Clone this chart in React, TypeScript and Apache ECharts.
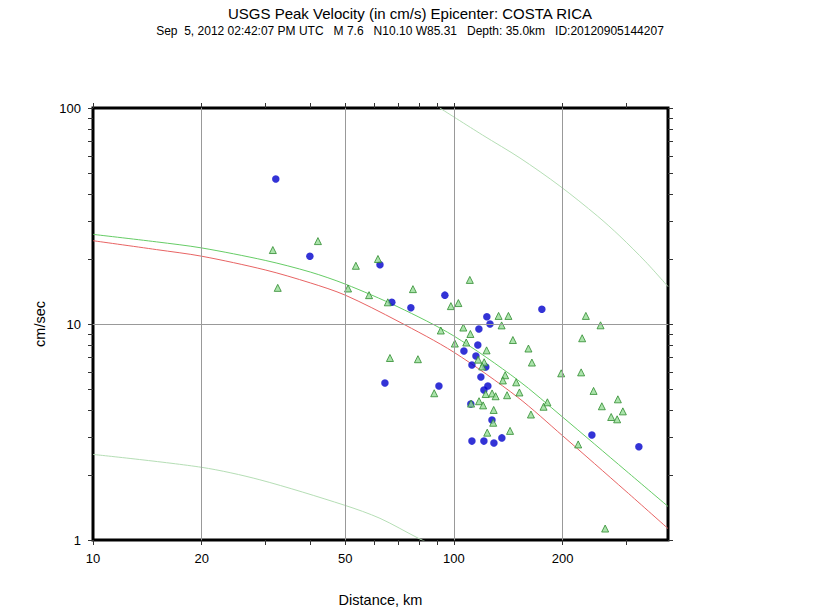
import React, { useEffect, useRef } from 'react';
import * as echarts from 'echarts';

const TITLE = 'USGS Peak Velocity (in cm/s) Epicenter: COSTA RICA';
const SUBTITLE = 'Sep  5, 2012 02:42:07 PM UTC   M 7.6   N10.10 W85.31   Depth: 35.0km   ID:20120905144207';
const X_NAME = 'Distance, km';
const Y_NAME = 'cm/sec';

const xTickValues = [10, 20, 30, 40, 50, 60, 70, 80, 90, 100, 200, 300];
const xLabelValues = [10, 20, 50, 100, 200];
const yTickValues = [1, 2, 3, 4, 5, 6, 7, 8, 9, 10, 20, 30, 40, 50, 60, 70, 80, 90, 100];
const yLabelValues = [1, 10, 100];
const xGridValues = [20, 50, 100, 200];
const yGridValues = [10];

// Seismic stations (blue circles)
const stationDist = [32.1, 39.9, 62.4, 67.3, 76.0, 94.4, 175.3, 123.4, 125.9, 117.3, 116.5, 106.6, 115.1, 112.2, 122.6, 118.8, 124.2, 121.1, 90.9, 64.4, 111.4, 127.5, 112.2, 121.1, 129.1, 135.8, 241.2, 325.5];
const stationPgv = [46.9, 20.6, 18.8, 12.6, 11.9, 13.6, 11.7, 10.8, 10.0, 9.48, 8.0, 7.5, 7.11, 6.46, 6.32, 5.68, 5.16, 4.95, 5.16, 5.33, 4.26, 3.59, 2.87, 2.87, 2.81, 2.97, 3.06, 2.70];

// Intensity-derived observations (green triangles)
const dyfiDist = [31.5, 42.0, 32.5, 53.5, 61.6, 50.9, 58.2, 65.6, 77.0, 110.7, 102.9, 98.1, 92.0, 106.2, 111.1, 100.6, 108.2, 133.0, 141.6, 135.6, 145.7, 160.9, 123.2, 164.5, 116.7, 121.3, 119.8, 138.7, 136.7, 148.8, 79.5, 88.2, 122.5, 127.6, 130.5, 140.4, 151.9, 117.4, 120.5, 128.9, 111.6, 177.2, 181.6, 163.5, 128.5, 123.7, 143.1, 232.1, 254.9, 226.7, 198.3, 225.2, 243.8, 284.7, 257.0, 293.9, 272.8, 283.4, 221.0, 262.5, 66.5];
const dyfiPgv = [22.0, 24.2, 14.7, 18.6, 20.0, 14.6, 13.6, 12.6, 14.5, 16.0, 12.5, 12.1, 9.33, 9.63, 8.99, 8.12, 8.21, 10.9, 10.9, 9.85, 8.43, 7.70, 7.55, 6.63, 6.84, 6.65, 6.36, 5.79, 5.48, 5.37, 6.87, 4.78, 4.74, 4.77, 4.63, 4.68, 4.82, 4.39, 4.20, 4.00, 4.28, 4.14, 4.34, 3.81, 3.49, 3.14, 3.20, 10.9, 9.86, 8.59, 5.91, 5.97, 4.90, 4.48, 4.16, 3.94, 3.71, 3.62, 2.77, 1.13, 6.96];

// Ground-motion curves
const curveDist = [10, 15, 20, 30, 40, 50, 70, 100, 150, 200, 300, 392];
const greenCurve = [26.0, 24.0, 22.5, 19.7, 17.4, 15.3, 12.0, 8.8, 5.52, 3.71, 2.09, 1.43];
const redCurve = [24.3, 22.1, 20.6, 17.8, 15.5, 13.6, 10.3, 7.4, 4.59, 3.04, 1.68, 1.13];
const upperDist = [91.4, 120, 152.4, 196.7, 250, 288.5, 340, 392];
const upperCurve = [100, 75, 58.7, 43.5, 31.6, 25.5, 19.4, 14.9];
const lowerDist = [10, 20, 29.0, 49.7, 62.4, 79.6, 85];
const lowerCurve = [2.49, 2.17, 1.90, 1.45, 1.26, 1.02, 0.97];

const FONT = '"Liberation Sans", Arial, Helvetica, sans-serif';

const zip = (a: number[], b: number[]) => a.map((v, i) => [v, b[i]]);

export default function App() {
  const ref = useRef<HTMLDivElement>(null);
  useEffect(() => {
    if (!ref.current) return;
    const chart = echarts.init(ref.current, undefined, { renderer: 'svg' });
    const tickStyle = { show: true, inside: false, length: 5, lineStyle: { color: '#333', width: 1 } };
    const xBase = { type: 'log' as const, logBase: 10, min: 10, max: 392, splitLine: { show: false }, axisLine: { show: false } };
    const yBase = { type: 'log' as const, logBase: 10, min: 1, max: 100, splitLine: { show: false }, axisLine: { show: false } };
    const curve = { type: 'line' as const, showSymbol: false, smooth: 0.3, silent: true };
    chart.setOption({
      animation: false,
      backgroundColor: '#ffffff',
      textStyle: { fontFamily: FONT },
      grid: { left: 93, right: 152, top: 108, bottom: 72, show: true, borderColor: '#000', borderWidth: 3, backgroundColor: 'transparent' },
      graphic: [
        { type: 'text', x: 410, y: 13, style: { text: TITLE, font: `15px ${FONT}`, fill: '#000', textAlign: 'center', textVerticalAlign: 'middle' } },
        { type: 'text', x: 410, y: 31, style: { text: SUBTITLE, font: `12px ${FONT}`, fill: '#000', textAlign: 'center', textVerticalAlign: 'middle' } },
      ],
      xAxis: [
        {
          ...xBase, position: 'bottom',
          axisTick: { show: false },
          axisLabel: { customValues: xLabelValues, fontSize: 13, color: '#000', margin: 12, fontFamily: FONT },
          name: X_NAME, nameLocation: 'middle', nameGap: 52,
          nameTextStyle: { fontSize: 14.5, color: '#000', fontFamily: FONT },
        },
        {
          ...xBase, position: 'top',
          axisTick: { ...tickStyle, customValues: xTickValues },
          axisLabel: { show: false },
        },
        {
          ...xBase, position: 'bottom',
          axisTick: { ...tickStyle, customValues: xTickValues },
          axisLabel: { show: false },
        },
      ],
      yAxis: [
        {
          ...yBase, position: 'left',
          axisTick: { ...tickStyle, customValues: yTickValues },
          axisLabel: { customValues: yLabelValues, fontSize: 13, color: '#000', margin: 12, fontFamily: FONT },
          name: Y_NAME, nameLocation: 'middle', nameGap: 46, nameRotate: 90,
          nameTextStyle: { fontSize: 14.5, color: '#000', fontFamily: FONT },
        },
        {
          ...yBase, position: 'right',
          axisTick: { ...tickStyle, customValues: yTickValues },
          axisLabel: { show: false },
        },
      ],
      series: [
        {
          ...curve, data: zip(lowerDist, lowerCurve),
          lineStyle: { color: '#b5deb5', width: 1 }, z: 1,
          markLine: {
            silent: true, symbol: 'none', label: { show: false },
            lineStyle: { color: '#999', width: 1, type: 'solid' },
            data: [...xGridValues.map((v) => ({ xAxis: v })), ...yGridValues.map((v) => ({ yAxis: v }))],
          },
        },
        { ...curve, data: zip(upperDist, upperCurve), lineStyle: { color: '#b5deb5', width: 1 }, z: 1 },
        { ...curve, data: zip(curveDist, redCurve), lineStyle: { color: '#e86464', width: 1 }, z: 2 },
        { ...curve, data: zip(curveDist, greenCurve), lineStyle: { color: '#66cc66', width: 1 }, z: 2 },
        { type: 'scatter', data: zip(stationDist, stationPgv), symbol: 'circle', symbolSize: 7.5, itemStyle: { color: '#0000cc' }, z: 3 },
        { type: 'scatter', data: zip(dyfiDist, dyfiPgv), symbol: 'triangle', symbolSize: 7, itemStyle: { color: '#96dc96', borderColor: '#2e8b2e', borderWidth: 1 }, z: 4 },
      ],
    });
    return () => chart.dispose();
  }, []);
  return <div ref={ref} style={{ position: 'fixed', left: 0, top: 0, width: 820, height: 612 }} />;
}
